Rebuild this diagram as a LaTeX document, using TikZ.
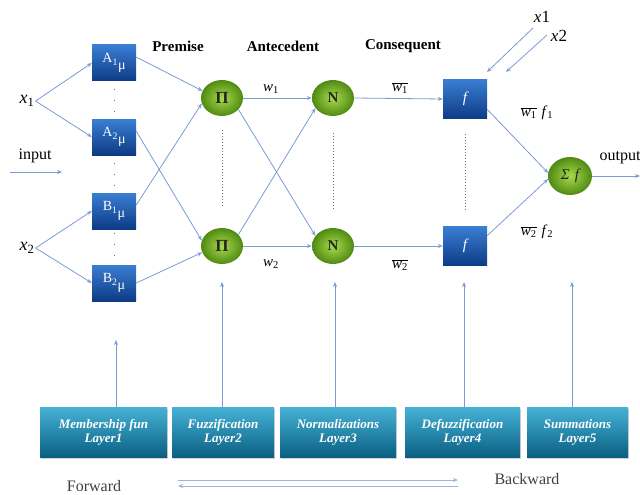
\documentclass[tikz,border=0pt]{standalone}
\usepackage{fontspec}
\setmainfont{Liberation Serif}
\usetikzlibrary{arrows.meta,shapes.geometric,shadows}
\definecolor{lineblue}{HTML}{7B9BD4}
\definecolor{paleblue}{HTML}{9FB4DC}
\definecolor{boxtop}{HTML}{3A7ED2}
\definecolor{boxbot}{HTML}{0D3B86}
\definecolor{greenin}{HTML}{A9DA4C}
\definecolor{greenout}{HTML}{4F8A12}
\definecolor{layertop}{HTML}{46B2D6}
\definecolor{layerbot}{HTML}{0A6083}
\tikzset{
  bluebox/.style={rectangle, minimum width=44pt, minimum height=36pt, inner sep=0pt,
    top color=boxtop, bottom color=boxbot, draw=none, text=white, font=\fontsize{14}{15}\selectfont},
  greennode/.style={ellipse, minimum width=42pt, minimum height=36pt, inner sep=0pt,
    shading=radial, inner color=greenin, outer color=greenout, draw=none,
    font=\bfseries\fontsize{17}{18}\selectfont, text=black!85},
  layerbox/.style={rectangle, minimum height=50pt, inner sep=0pt, align=center,
    top color=layertop, bottom color=layerbot, draw=none, text=white,
    drop shadow={shadow xshift=1pt, shadow yshift=-1.5pt, opacity=0.35},
    font=\bfseries\itshape\fontsize{13}{14}\selectfont},
  conn/.style={draw=lineblue, line width=0.8pt, -{Stealth[length=5pt,width=4pt]}},
  lbl/.style={inner sep=1pt, font=\fontsize{16}{17}\selectfont},
  xlbl/.style={inner sep=1pt, font=\fontsize{18}{19}\selectfont},
  wlbl/.style={inner sep=1pt, font=\fontsize{15}{16}\selectfont},
  heading/.style={inner sep=1pt, font=\bfseries\fontsize{15}{16}\selectfont},
  sparsedots/.style={draw=black!55, line width=0.9pt, dash pattern=on 0.9pt off 10pt},
  densedots/.style={draw=black!55, line width=0.8pt, dash pattern=on 0.8pt off 2.2pt},
  bigarrow/.style={draw=paleblue, line width=1pt, -{Stealth[length=5pt,width=4pt]}}
}
\begin{document}
\begin{tikzpicture}[x=1pt,y=-1pt]
\useasboundingbox (0,0) rectangle (640,495);

% headings
\node[heading] (hprem) at (178,46) {Premise};
\node[heading] (hante) at (283,46) {Antecedent};
\node[heading] (hcons) at (403,46) {Consequent};

% inputs
\node[xlbl] (x1) at (27,101) {\textit{x}\textsubscript{1}};
\node[xlbl] (x2) at (27,248) {\textit{x}\textsubscript{2}};
\node[lbl] (inp) at (35,156) {input};
\coordinate (inA) at (10,172);
\coordinate (inB) at (62,172);

% membership boxes
\node[bluebox] (A1) at (114,63) {A\textsubscript{1}\raisebox{-1ex}{μ}};
\node[bluebox] (A2) at (114,137) {A\textsubscript{2}\raisebox{-1ex}{μ}};
\node[bluebox] (B1) at (114,211) {B\textsubscript{1}\raisebox{-1ex}{μ}};
\node[bluebox] (B2) at (114,283) {B\textsubscript{2}\raisebox{-1ex}{μ}};

% product nodes
\node[greennode] (P1) at (222,98) {Π};
\node[greennode] (P2) at (222,246) {Π};
% normalization nodes
\node[greennode, font=\bfseries\fontsize{15}{16}\selectfont] (N1) at (333,98) {N};
\node[greennode, font=\bfseries\fontsize{15}{16}\selectfont] (N2) at (333,246) {N};
% consequent boxes
\node[bluebox, minimum height=39pt, font=\itshape\fontsize{15}{16}\selectfont] (F1) at (465,99) {f};
\node[bluebox, minimum height=39pt, font=\itshape\fontsize{15}{16}\selectfont] (F2) at (465,246) {f};
% sum node
\node[greennode, minimum width=44pt, minimum height=38pt, font=\itshape\fontsize{15}{16}\selectfont] (S) at (570,176) {Σ\,\,f};
\node[lbl] (out) at (620,158) {output};
\coordinate (outend) at (640,176);

% top-right inputs
\node[inner sep=1pt, font=\itshape\fontsize{17}{18}\selectfont] (tx1) at (542,17) {x\upshape1};
\node[inner sep=1pt, font=\itshape\fontsize{17}{18}\selectfont] (tx2) at (559,36) {x\upshape2};
\coordinate (t1a) at (533,28);
\coordinate (t1b) at (487,72);
\coordinate (t2a) at (547,35);
\coordinate (t2b) at (506,72);

% weight labels
\node[wlbl] (w1) at (271,89) {\textit{w}\textsubscript{1}};
\node[wlbl] (w2) at (271,264) {\textit{w}\textsubscript{2}};
\node[wlbl] (nw1) at (400,88) {$\overline{\mbox{\textit{w}\textsubscript{1}}}$};
\node[wlbl] (nw2) at (400,265) {$\overline{\mbox{\textit{w}\textsubscript{2}}}$};
\node[wlbl] (wf1) at (537,113) {$\overline{\mbox{\textit{w}\textsubscript{1}}}$\,\,\textit{f}\textsubscript{1}};
\node[wlbl] (wf2) at (537,232) {$\overline{\mbox{\textit{w}\textsubscript{2}}}$\,\,\textit{f}\textsubscript{2}};

% layer boxes
\node[layerbox, minimum width=127pt] (L1) at (103.5,432) {Membership fun\\Layer1};
\node[layerbox, minimum width=102pt] (L2) at (223,432) {Fuzzification\\Layer2};
\node[layerbox, minimum width=116pt] (L3) at (338,432) {Normalizations\\Layer3};
\node[layerbox, minimum width=115pt] (L4) at (462.5,432) {Defuzzification\\Layer4};
\node[layerbox, minimum width=101pt] (L5) at (577.5,432) {Summations\\Layer5};
\coordinate (u1) at (116,340);
\coordinate (u2) at (222,282);
\coordinate (u3) at (335,282);
\coordinate (u4) at (464,282);
\coordinate (u5) at (572,282);

% forward / backward
\node[inner sep=1pt, font=\fontsize{16}{17}\selectfont, text=black!75] (fw) at (94,486) {Forward};
\node[inner sep=1pt, font=\fontsize{16}{17}\selectfont, text=black!75] (bw) at (527,479) {Backward};
\coordinate (fa) at (178,480);
\coordinate (fb) at (458,480);
\coordinate (ba) at (458,486);
\coordinate (bb) at (178,486);

% ---------- connectors ----------
\draw[conn] (inA) -- (inB);
\draw[conn] (x1.east) -- (A1.west);
\draw[conn] (x1.east) -- (A2.west);
\draw[conn] (x2.east) -- (B1.west);
\draw[conn] (x2.east) -- (B2.west);

\draw[conn] (A1.15) -- (P1.160);
\draw[conn] (B1.15) -- (P1.195);
\draw[conn] (A2.15) -- (P2.165);
\draw[conn] (B2.east) -- (P2.198);

\draw[conn] (P1.east) -- (N1.west);
\draw[conn] (P2.east) -- (N2.west);
\draw[conn] (P1.-35) -- (N2.150);
\draw[conn] (P2.35) -- (N1.210);

\draw[conn] (N1.east) -- (F1.west);
\draw[conn] (N2.east) -- (F2.west);

\draw[conn] (F1.-25) -- (S.172);
\draw[conn] (F2.25) -- (S.188);
\draw[conn] (S.east) -- (outend);

\draw[conn] (t1a) -- (t1b);
\draw[conn] (t2a) -- (t2b);

% dotted column markers
\draw[sparsedots] ([yshift=-8pt]A1.south) -- ([yshift=6pt]A2.north);
\draw[sparsedots] ([yshift=-8pt]A2.south) -- ([yshift=6pt]B1.north);
\draw[sparsedots] ([yshift=-4pt]B1.south) -- ([yshift=4pt]B2.north);
\draw[densedots] ([yshift=-14pt]P1.south) -- ([yshift=21pt]P2.north);
\draw[densedots] ([yshift=-17pt]N1.south) -- ([yshift=18pt]N2.north);
\draw[densedots] ([yshift=-15pt]F1.south) -- ([yshift=17pt]F2.north);

% layer arrows
\draw[conn] (L1.north -| u1) -- (u1);
\draw[conn] (L2.north -| u2) -- (u2);
\draw[conn] (L3.north -| u3) -- (u3);
\draw[conn] (L4.north -| u4) -- (u4);
\draw[conn] (L5.north -| u5) -- (u5);

\draw[bigarrow] (fa) -- (fb);
\draw[bigarrow] (ba) -- (bb);
\end{tikzpicture}
\end{document}
